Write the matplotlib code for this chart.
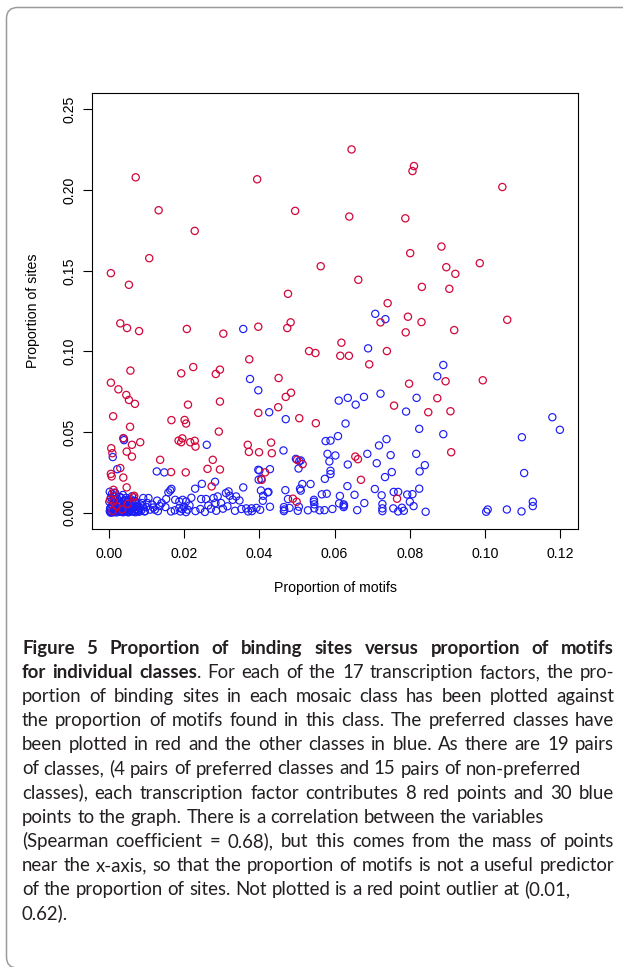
import matplotlib.pyplot as plt
from matplotlib.patches import FancyBboxPatch
from matplotlib.transforms import IdentityTransform

# preferred classes (red)
red_x = [
    0.0005, 0.0053, 0.0071, 0.0132, 0.0107, 0.0228, 0.0394, 0.0495, 0.0476, 0.0563,
    0.0645, 0.0811, 0.0807, 0.1046, 0.0639, 0.0788, 0.0884, 0.0801, 0.0897, 0.0921,
    0.0986, 0.0663, 0.0832, 0.0905, 0.0741, 0.0030, 0.0048, 0.0080, 0.0207, 0.0304,
    0.0397, 0.0474, 0.0483, 0.0373, 0.0532, 0.0549, 0.0618, 0.0615, 0.0638, 0.0005,
    0.0025, 0.0046, 0.0053, 0.0069, 0.0057, 0.0011, 0.0056, 0.0192, 0.0224, 0.0284,
    0.0295, 0.0210, 0.0295, 0.0166, 0.0201, 0.0205, 0.0292, 0.0397, 0.0451, 0.0470,
    0.0484, 0.0450, 0.0506, 0.0550, 0.0795, 0.0722, 0.0831, 0.0789, 0.0918, 0.1059,
    0.0739, 0.0692, 0.0798, 0.0895, 0.0994, 0.0873, 0.0758, 0.0849, 0.0908, 0.0038,
    0.0006, 0.0009, 0.0047, 0.0061, 0.0061, 0.0083, 0.0030, 0.0005, 0.0007, 0.0038,
    0.0047, 0.0012, 0.0014, 0.0067, 0.0066, 0.0003, 0.0012, 0.0136, 0.0165, 0.0204,
    0.0185, 0.0192, 0.0195, 0.0216, 0.0228, 0.0230, 0.0262, 0.0276, 0.0295, 0.0273,
    0.0369, 0.0372, 0.0399, 0.0431, 0.0433, 0.0415, 0.0406, 0.0515, 0.0500, 0.0655,
    0.0662, 0.0670, 0.0489, 0.0499, 0.0766, 0.0910, 0.0020, 0.0035, 0.0010, 0.0050,
]
red_y = [
    0.1485, 0.1413, 0.2079, 0.1875, 0.1578, 0.1747, 0.2067, 0.1871, 0.1357, 0.1528,
    0.2252, 0.2149, 0.2118, 0.2019, 0.1836, 0.1825, 0.1650, 0.1609, 0.1522, 0.1481,
    0.1547, 0.1444, 0.1400, 0.1388, 0.1299, 0.1174, 0.1145, 0.1126, 0.1139, 0.1110,
    0.1153, 0.1145, 0.1180, 0.0951, 0.1002, 0.0990, 0.1054, 0.0973, 0.0973, 0.0806,
    0.0765, 0.0730, 0.0699, 0.0675, 0.0881, 0.0598, 0.0533, 0.0864, 0.0903, 0.0860,
    0.0887, 0.0670, 0.0689, 0.0574, 0.0575, 0.0553, 0.0503, 0.0619, 0.0835, 0.0718,
    0.0744, 0.0654, 0.0586, 0.0555, 0.1215, 0.1180, 0.1182, 0.1118, 0.1132, 0.1196,
    0.1002, 0.0920, 0.0800, 0.0815, 0.0821, 0.0710, 0.0664, 0.0623, 0.0629, 0.0462,
    0.0400, 0.0369, 0.0379, 0.0348, 0.0421, 0.0437, 0.0277, 0.0241, 0.0225, 0.0218,
    0.0157, 0.0142, 0.0122, 0.0105, 0.0095, 0.0080, 0.0070, 0.0328, 0.0252, 0.0250,
    0.0447, 0.0437, 0.0461, 0.0437, 0.0446, 0.0410, 0.0272, 0.0328, 0.0268, 0.0163,
    0.0421, 0.0377, 0.0375, 0.0435, 0.0369, 0.0250, 0.0204, 0.0301, 0.0328, 0.0348,
    0.0332, 0.0204, 0.0087, 0.0068, 0.0087, 0.0375, 0.0040, 0.0020, 0.0012, 0.0055,
]

# other classes (blue)
blue_x = [
    # upper scatter
    0.0357, 0.0375, 0.0397, 0.0426, 0.0470, 0.0611, 0.0708, 0.0735, 0.0689, 0.0889,
    0.0873, 0.0635, 0.0656, 0.0678, 0.0722, 0.0818, 0.0790, 0.0629, 0.0825, 0.0889,
    0.0609, 0.0738, 0.1098, 0.1179, 0.1199, 0.0576, 0.0589, 0.0718,
    # middle band
    0.0464, 0.0581, 0.0602, 0.0586, 0.0635, 0.0687, 0.0712, 0.0749, 0.0817, 0.0840,
    0.0826, 0.0752, 0.0734, 0.0589, 0.0589, 0.0574, 0.0497, 0.0504, 0.0506, 0.0510,
    0.0428, 0.0400, 0.0405, 0.0514, 0.0536, 0.0508, 0.0510, 0.0469, 0.0404, 0.0422,
    0.0424, 0.0410, 0.0409, 0.0476, 0.0566, 0.0579, 0.0614, 0.0634, 0.0653, 0.0707,
    0.0725, 0.0757, 0.0769, 0.0793, 0.0807, 0.0825, 0.1104,
    # low, right half
    0.0428, 0.0465, 0.0466, 0.0465, 0.0480, 0.0502, 0.0505, 0.0529, 0.0545, 0.0545,
    0.0546, 0.0546, 0.0560, 0.0573, 0.0594, 0.0612, 0.0624, 0.0625, 0.0624, 0.0660,
    0.0679, 0.0727, 0.0727, 0.0727, 0.0756, 0.0769, 0.0779, 0.0784, 0.0800, 0.0810,
    0.0842, 0.1003, 0.1007, 0.1058, 0.1097, 0.1127, 0.1127, 0.0380, 0.0392, 0.0402,
    # left, above the base
    0.0039, 0.0040, 0.0010, 0.0022, 0.0127, 0.0147, 0.0260, 0.0282, 0.0247, 0.0229,
    0.0163, 0.0166, 0.0357, 0.0397, 0.0398,
    # low, left half
    0.0091, 0.0105, 0.0099, 0.0109, 0.0122, 0.0140, 0.0152, 0.0158, 0.0150, 0.0165,
    0.0176, 0.0187, 0.0196, 0.0205, 0.0187, 0.0195, 0.0200, 0.0190, 0.0205, 0.0219,
    0.0214, 0.0209, 0.0245, 0.0243, 0.0258, 0.0264, 0.0271, 0.0278, 0.0283, 0.0289,
    0.0298, 0.0303, 0.0311, 0.0318, 0.0321, 0.0329, 0.0338, 0.0347, 0.0352, 0.0365,
    0.0370, 0.0379, 0.0115, 0.0130, 0.0175, 0.0230, 0.0255, 0.0285, 0.0315, 0.0335,
    0.0095, 0.0102, 0.0118, 0.0135, 0.0128,
    # cluster at the origin
    0.0002, 0.0004, 0.0006, 0.0008, 0.0010, 0.0012, 0.0014, 0.0016, 0.0018, 0.0020,
    0.0022, 0.0024, 0.0026, 0.0028, 0.0030, 0.0032, 0.0034, 0.0036, 0.0038, 0.0040,
    0.0042, 0.0044, 0.0046, 0.0048, 0.0050, 0.0052, 0.0054, 0.0056, 0.0058, 0.0060,
    0.0062, 0.0064, 0.0066, 0.0068, 0.0070, 0.0072, 0.0074, 0.0076, 0.0078, 0.0080,
    0.0003, 0.0007, 0.0011, 0.0015, 0.0019, 0.0023, 0.0027, 0.0031, 0.0035, 0.0039,
    0.0043, 0.0047, 0.0051, 0.0055, 0.0059, 0.0063, 0.0067, 0.0071, 0.0075, 0.0079,
    0.0001, 0.0009, 0.0017, 0.0025, 0.0033, 0.0041, 0.0049, 0.0057, 0.0065, 0.0073,
    0.0005, 0.0013, 0.0021, 0.0029, 0.0037, 0.0045, 0.0053, 0.0061, 0.0069, 0.0083,
    0.0086, 0.0090, 0.0095, 0.0088, 0.0002, 0.0008, 0.0016, 0.0022, 0.0012, 0.0004,
]
blue_y = [
    # upper scatter
    0.1139, 0.0829, 0.0759, 0.0623, 0.0580, 0.0695, 0.1233, 0.1200, 0.1019, 0.0916,
    0.0846, 0.0712, 0.0670, 0.0718, 0.0738, 0.0712, 0.0627, 0.0553, 0.0520, 0.0487,
    0.0475, 0.0456, 0.0468, 0.0592, 0.0514, 0.0444, 0.0447, 0.0417,
    # middle band
    0.0386, 0.0365, 0.0355, 0.0318, 0.0299, 0.0365, 0.0307, 0.0357, 0.0365, 0.0295,
    0.0256, 0.0252, 0.0221, 0.0260, 0.0240, 0.0210, 0.0334, 0.0274, 0.0320, 0.0324,
    0.0270, 0.0262, 0.0210, 0.0178, 0.0178, 0.0149, 0.0137, 0.0140, 0.0138, 0.0126,
    0.0129, 0.0105, 0.0074, 0.0085, 0.0114, 0.0118, 0.0104, 0.0165, 0.0111, 0.0147,
    0.0108, 0.0129, 0.0129, 0.0113, 0.0115, 0.0149, 0.0246,
    # low, right half
    0.0037, 0.0035, 0.0020, 0.0010, 0.0030, 0.0012, 0.0037, 0.0015, 0.0080, 0.0068,
    0.0052, 0.0027, 0.0015, 0.0016, 0.0023, 0.0058, 0.0052, 0.0044, 0.0035, 0.0016,
    0.0060, 0.0054, 0.0027, 0.0010, 0.0027, 0.0008, 0.0031, 0.0012, 0.0068, 0.0041,
    0.0006, 0.0006, 0.0020, 0.0020, 0.0008, 0.0068, 0.0041, 0.0010, 0.0030, 0.0018,
    # left, above the base
    0.0460, 0.0450, 0.0345, 0.0270, 0.0256, 0.0250, 0.0421, 0.0192, 0.0179, 0.0149,
    0.0138, 0.0148, 0.0157, 0.0266, 0.0205,
    # low, left half
    0.0091, 0.0091, 0.0035, 0.0019, 0.0019, 0.0060, 0.0085, 0.0126, 0.0035, 0.0008,
    0.0080, 0.0070, 0.0080, 0.0070, 0.0030, 0.0022, 0.0035, 0.0008, 0.0004, 0.0093,
    0.0045, 0.0019, 0.0085, 0.0023, 0.0085, 0.0045, 0.0025, 0.0091, 0.0060, 0.0101,
    0.0060, 0.0025, 0.0122, 0.0132, 0.0105, 0.0080, 0.0101, 0.0076, 0.0023, 0.0027,
    0.0008, 0.0027, 0.0050, 0.0010, 0.0015, 0.0010, 0.0005, 0.0012, 0.0040, 0.0012,
    0.0010, 0.0060, 0.0032, 0.0042, 0.0075,
    # cluster at the origin
    0.0010, 0.0030, 0.0005, 0.0045, 0.0012, 0.0060, 0.0020, 0.0008, 0.0035, 0.0002,
    0.0050, 0.0015, 0.0040, 0.0006, 0.0025, 0.0055, 0.0010, 0.0032, 0.0003, 0.0047,
    0.0018, 0.0008, 0.0038, 0.0012, 0.0028, 0.0004, 0.0052, 0.0016, 0.0030, 0.0007,
    0.0022, 0.0044, 0.0010, 0.0035, 0.0003, 0.0058, 0.0020, 0.0012, 0.0040, 0.0006,
    0.0026, 0.0002, 0.0048, 0.0014, 0.0033, 0.0009, 0.0062, 0.0021, 0.0005, 0.0037,
    0.0011, 0.0029, 0.0003, 0.0043, 0.0017, 0.0056, 0.0008, 0.0024, 0.0036, 0.0013,
    0.0068, 0.0075, 0.0082, 0.0070, 0.0090, 0.0078, 0.0066, 0.0085, 0.0072, 0.0064,
    0.0095, 0.0105, 0.0088, 0.0098, 0.0110, 0.0092, 0.0080, 0.0102, 0.0074, 0.0030,
    0.0015, 0.0040, 0.0008, 0.0060, 0.0130, 0.0118, 0.0125, 0.0012, 0.0003, 0.0001,
]

x_ticks = [0.00, 0.02, 0.04, 0.06, 0.08, 0.10, 0.12]
y_ticks = [0.00, 0.05, 0.10, 0.15, 0.20, 0.25]

caption_lines = [
    "**Figure 5 Proportion of binding sites versus proportion of motifs**",
    "**for individual classes**. For each of the 17 transcription factors, the pro-",
    "portion of binding sites in each mosaic class has been plotted against",
    "the proportion of motifs found in this class. The preferred classes have",
    "been plotted in red and the other classes in blue. As there are 19 pairs",
    "of classes, (4 pairs of preferred classes and 15 pairs of non-preferred",
    "classes), each transcription factor contributes 8 red points and 30 blue",
    "points to the graph. There is a correlation between the variables",
    "(Spearman coefficient = 0.68), but this comes from the mass of points",
    "near the x-axis, so that the proportion of motifs is not a useful predictor",
    "of the proportion of sites. Not plotted is a red point outlier at (0.01,",
    "0.62).",
]
justified = [True, True, True, True, True, False, True, False, True, True, False, False]
# right end (px) of the ragged lines in the reference, used to size the font
ragged_ends = {5: 541, 7: 563, 10: 590}

W, H = 623, 967
fig = plt.figure(figsize=(W / 100, H / 100), dpi=100)
fig.patch.set_facecolor("white")


def fx(px):
    return px / W


def fy(py):
    return 1 - py / H


# page frame (rounded, open to the right and bottom)
frame = FancyBboxPatch((6.5, H - 968), 700, 968 - 7.5,
                       boxstyle="round,pad=0,rounding_size=11",
                       transform=IdentityTransform(), fill=False,
                       edgecolor="#9c9c9c", linewidth=1.1)
fig.add_artist(frame)

ax = fig.add_axes([fx(91.7), fy(528.7), fx(578.3) - fx(91.7), fy(93.3) - fy(528.7)])
ax.scatter(blue_x, blue_y, s=27, facecolors="none", edgecolors="#1c1cf5", linewidths=0.85)
ax.scatter(red_x, red_y, s=27, facecolors="none", edgecolors="#d2083c", linewidths=0.9)

ax.set_xlim(-0.0046, 0.1248)
ax.set_ylim(-0.0099, 0.2600)
ax.set_xticks(x_ticks)
ax.set_xticklabels([f"{v:.2f}" for v in x_ticks])
ax.set_yticks(y_ticks)
ax.set_yticklabels([f"{v:.2f}" for v in y_ticks])

axis_font = "Liberation Sans"
ax.tick_params(axis="both", length=6.2, width=0.8, labelsize=10.2, colors="black")
ax.tick_params(axis="x", pad=7)
ax.tick_params(axis="y", pad=5, labelrotation=90)
for lbl in ax.get_xticklabels() + ax.get_yticklabels():
    lbl.set_fontfamily(axis_font)
for lbl in ax.get_yticklabels():
    lbl.set_verticalalignment("center")
for sp in ax.spines.values():
    sp.set_linewidth(0.8)

fig.text(fx(335), fy(588), "Proportion of motifs", ha="center", va="center",
         fontsize=10.2, family=axis_font)
fig.text(fx(33), fy(311), "Proportion of sites", ha="center", va="center",
         rotation=90, fontsize=10.2, family=axis_font)

# caption, justified word by word
renderer = fig.canvas.get_renderer()
cap_left, cap_right = 22, 614
target = cap_right - cap_left
cap_font = "Lato"
cap_color = "#231f20"


def parse(line):
    words = []
    bold = False
    for token in line.split(" "):
        segs = []
        for i, part in enumerate(token.split("**")):
            if i > 0:
                bold = not bold
            if part:
                segs.append((part, bold))
        words.append(segs)
    return words


def text_width(s, fs, bold):
    t = fig.text(0, 0, s, fontsize=fs, family=cap_font,
                 fontweight="bold" if bold else "normal")
    w = t.get_window_extent(renderer).width
    t.remove()
    return w


def line_width(words, fs, squeeze=1.0):
    space = text_width("x x", fs, False) - text_width("xx", fs, False)
    total = sum(text_width(s, fs, b) for segs in words for s, b in segs)
    return total + squeeze * space * (len(words) - 1)


parsed = [parse(l) for l in caption_lines]
fs0 = 13.0
ratios = [(end - cap_left) / line_width(parsed[i], fs0) for i, end in ragged_ends.items()]
fs = fs0 * sum(ratios) / len(ratios)
widest = max(line_width(p, fs, 0.6) for p, j in zip(parsed, justified) if j)
if widest > target:
    fs = fs * target / widest

space = text_width("x x", fs, False) - text_width("xx", fs, False)
for i, (words, just) in enumerate(zip(parsed, justified)):
    y = fy(654 + i * 24.1)
    widths = [sum(text_width(s, fs, b) for s, b in segs) for segs in words]
    gap = space
    if just and len(words) > 1:
        gap = (target - sum(widths)) / (len(words) - 1)
    x = cap_left
    for segs, w in zip(words, widths):
        xx = x
        for s, b in segs:
            fig.text(fx(xx), y, s, fontsize=fs, family=cap_font, color=cap_color,
                     fontweight="bold" if b else "normal", va="baseline", ha="left")
            xx += text_width(s, fs, b)
        x += w + gap

fig.savefig("out.png", dpi=100)
